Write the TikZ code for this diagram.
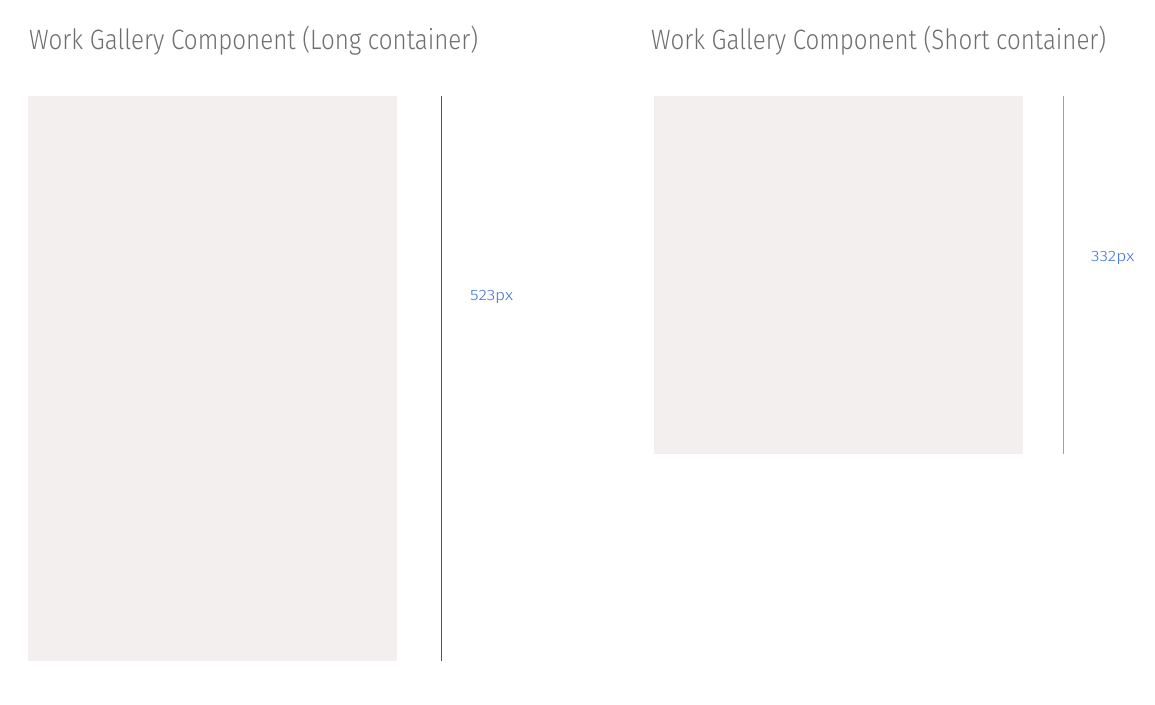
\documentclass[tikz,border=0pt]{standalone}
\usepackage{fontspec}
\usepackage{graphicx}
\setmainfont{Fira Sans Light}
\definecolor{boxfill}{HTML}{F3EFEE}
\definecolor{titlegray}{HTML}{6E6E6E}
\definecolor{dimblue}{HTML}{2457D0}
\definecolor{dimlight}{HTML}{8E9BE6}
\definecolor{labelblue}{HTML}{3D6FDF}
\tikzset{
  x=1pt,y=-1pt,
  container/.style={fill=boxfill,draw=none},
  title/.style={anchor=base west,inner sep=0pt,text=titlegray,font=\fontsize{28}{30}\selectfont},
  dimlabel/.style={anchor=west,inner sep=0pt,text=labelblue,font=\fontsize{15}{17}\selectfont},
}
\begin{document}
\begin{tikzpicture}
\useasboundingbox (0,0) rectangle (1155,704);
\node[title] (t1) at (29,49) {\resizebox{449pt}{\height}{Work Gallery Component (Long container)}};
\node[title] (t2) at (651,49) {\resizebox{455pt}{\height}{Work Gallery Component (Short container)}};
\fill[container] (28,96) rectangle (397,661);
\fill[container] (654,96) rectangle (1023,454);
\coordinate (l1a) at (441.5,96);
\coordinate (l1b) at (441.5,661);
\coordinate (l2a) at (1063.5,96);
\coordinate (l2b) at (1063.5,454);
\draw[dimblue,line width=1pt] (l1a) -- (l1b);
\draw[dimlight,line width=1pt] (l2a) -- (l2b);
\node[dimlabel] (d1) at (470,297) {\resizebox{43pt}{\height}{523px}};
\node[dimlabel] (d2) at (1091,258) {\resizebox{43pt}{\height}{332px}};
\end{tikzpicture}
\end{document}
